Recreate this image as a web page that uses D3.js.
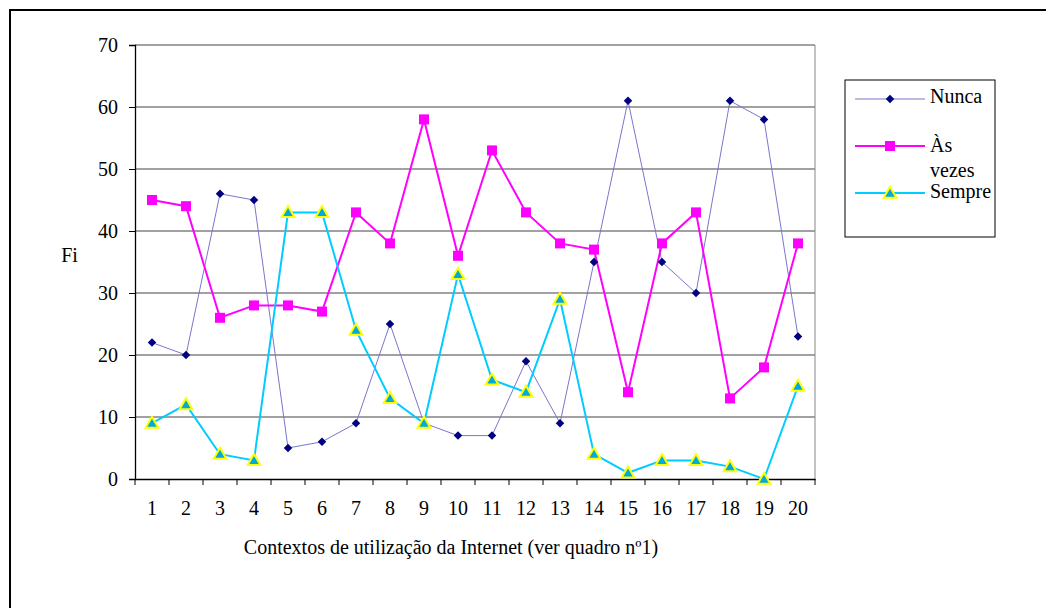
<!DOCTYPE html>
<html><head><meta charset="utf-8">
<script src="https://cdn.jsdelivr.net/npm/d3@7"></script>
<style>body{margin:0;background:#fff}svg{display:block}svg text{font-family:'Liberation Serif','Times New Roman','DejaVu Serif',serif !important;fill:#000;font-size:20px}</style>
</head><body><svg id="c" width="1046" height="608"></svg>
<script>
const categories = ["1","2","3","4","5","6","7","8","9","10","11","12","13","14","15","16","17","18","19","20"];
const nunca = [22,20,46,45,5,6,9,25,9,7,7,19,9,35,61,35,30,61,58,23];
const asVezes = [45,44,26,28,28,27,43,38,58,36,53,43,38,37,14,38,43,13,18,38];
const sempre = [9,12,4,3,43,43,24,13,9,33,16,14,29,4,1,3,3,2,0,15];
const yTicks = [0,10,20,30,40,50,60,70];
const seriesNames = ["Nunca","Às vezes","Sempre"];

const svg = d3.select("#c");
svg.append("rect").attr("x",10).attr("y",10).attr("width",1100).attr("height",700)
  .attr("fill","none").attr("stroke","#000").attr("stroke-width",2);

const L=135,R=815,T=45,B=479;
const x = d3.scaleBand().domain(categories).range([L,R]);
const y = d3.scaleLinear().domain([0,70]).range([B,T]);

svg.append("g").selectAll("line").data(yTicks.filter(d=>d>0)).join("line")
  .attr("x1",L).attr("x2",R).attr("y1",d=>y(d)).attr("y2",d=>y(d))
  .attr("stroke","#444").attr("stroke-width",1.2);
svg.append("line").attr("x1",R).attr("x2",R).attr("y1",T).attr("y2",B).attr("stroke","#888").attr("stroke-width",1);

const ya = svg.append("g").attr("transform",`translate(${L},0)`)
  .call(d3.axisLeft(y).tickValues(yTicks).tickSize(6).tickPadding(11));
ya.attr("font-family",null).attr("font-size",null);
ya.select(".domain").attr("stroke","#000").attr("stroke-width",1.3);
ya.selectAll(".tick line").attr("stroke","#000");

const xa = svg.append("g").attr("transform",`translate(0,${B})`)
  .call(d3.axisBottom(x).tickSize(0).tickPadding(22));
xa.attr("font-family",null).attr("font-size",null);
xa.select(".domain").attr("stroke","#000").attr("stroke-width",1.3);
const bounds = categories.map(c=>x(c)).concat([R]);
svg.append("g").selectAll("line").data(bounds).join("line")
  .attr("x1",d=>d).attr("x2",d=>d).attr("y1",B).attr("y2",B+6).attr("stroke","#000");

svg.append("text").attr("x",69.5).attr("y",262).attr("text-anchor","middle").text("Fi");
svg.append("text").attr("x",451).attr("y",554).attr("text-anchor","middle").text("Contextos de utilização da Internet (ver quadro nº1)");

const cx = c => x(c)+x.bandwidth()/2;
const line = d3.line().x((d,i)=>cx(categories[i])).y(d=>y(d));

svg.append("path").datum(nunca).attr("d",line).attr("fill","none").attr("stroke","#7777cc").attr("stroke-width",1);
svg.append("path").datum(asVezes).attr("d",line).attr("fill","none").attr("stroke","#ff00ff").attr("stroke-width",2);
svg.append("path").datum(sempre).attr("d",line).attr("fill","none").attr("stroke","#00ccff").attr("stroke-width",2);

const tri = d3.symbol().type(d3.symbolTriangle).size(70);
const dia = d3.symbol().type(d3.symbolSquare).size(36);

svg.append("g").selectAll("path").data(nunca).join("path")
  .attr("transform",(d,i)=>`translate(${cx(categories[i])},${y(d)}) rotate(45)`)
  .attr("d",dia).attr("fill","#000080");
svg.append("g").selectAll("rect").data(asVezes).join("rect")
  .attr("x",(d,i)=>cx(categories[i])-5).attr("y",d=>y(d)-5).attr("width",10).attr("height",10).attr("fill","#ff00ff");
svg.append("g").selectAll("path").data(sempre).join("path")
  .attr("transform",(d,i)=>`translate(${cx(categories[i])},${y(d)+1})`)
  .attr("d",tri).attr("fill","#00aadd").attr("stroke","#ffff00").attr("stroke-width",2);

svg.append("rect").attr("x",845).attr("y",80).attr("width",150).attr("height",157).attr("fill","#fff").attr("stroke","#000").attr("stroke-width",1);
const ly=[99,146,193];
const lg = svg.append("g");
lg.append("line").attr("x1",855).attr("x2",925).attr("y1",ly[0]).attr("y2",ly[0]).attr("stroke","#7777cc").attr("stroke-width",1);
lg.append("path").attr("transform",`translate(890,${ly[0]}) rotate(45)`).attr("d",dia).attr("fill","#000080");
lg.append("line").attr("x1",855).attr("x2",925).attr("y1",ly[1]).attr("y2",ly[1]).attr("stroke","#ff00ff").attr("stroke-width",2);
lg.append("rect").attr("x",885).attr("y",ly[1]-5).attr("width",10).attr("height",10).attr("fill","#ff00ff");
lg.append("line").attr("x1",855).attr("x2",925).attr("y1",ly[2]).attr("y2",ly[2]).attr("stroke","#00ccff").attr("stroke-width",2);
lg.append("path").attr("transform",`translate(890,${ly[2]+1})`).attr("d",tri).attr("fill","#00aadd").attr("stroke","#ffff00").attr("stroke-width",2);
lg.append("text").attr("x",930).attr("y",103).text(seriesNames[0]);
const t2 = lg.append("text").attr("x",930).attr("y",152);
t2.append("tspan").attr("x",930).text(seriesNames[1].split(" ")[0]);
t2.append("tspan").attr("x",930).attr("dy",25).text(seriesNames[1].split(" ")[1]);
lg.append("text").attr("x",930).attr("y",198).text(seriesNames[2]);
</script></body></html>
